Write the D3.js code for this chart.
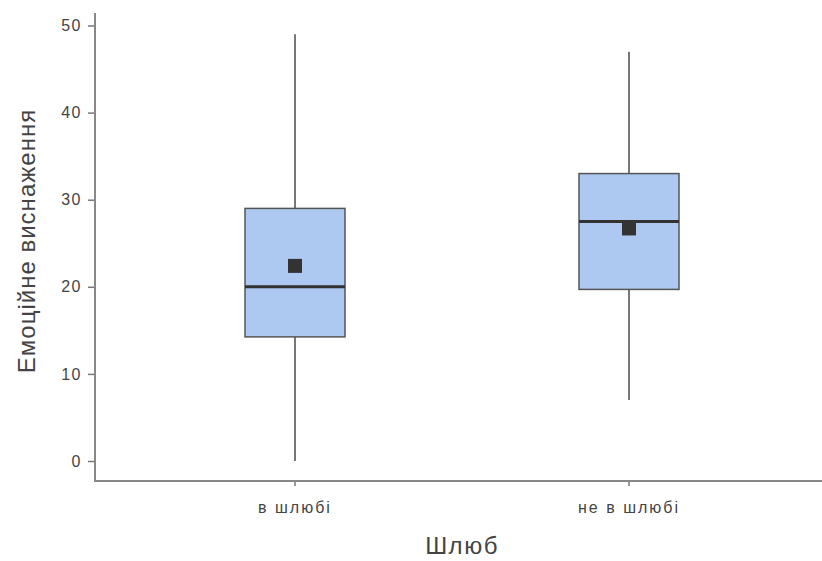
<!DOCTYPE html>
<html><head><meta charset="utf-8">
<script src="https://cdn.jsdelivr.net/npm/d3@7"></script>
<style>body{margin:0;background:#fff}svg{display:block}</style>
</head><body>
<svg id="c" width="822" height="561"></svg>
<script>
const categories = ["в шлюбі", "не в шлюбі"];
const whiskerLow = [0, 7];
const q1 = [14.25, 19.7];
const median = [20, 27.5];
const q3 = [29, 33];
const whiskerHigh = [49, 47];
const means = [22.4, 26.7];
const yTicks = [0, 10, 20, 30, 40, 50];

const svg = d3.select("#c");
const font = "'Liberation Sans', Arial, sans-serif";
const y = d3.scaleLinear().domain([0, 50]).range([461, 25.5]);
const x = d3.scaleBand().domain(categories).range([128, 796]);
const boxW = 100;

// axes
const yAxis = svg.append("g").attr("transform", "translate(95,0)")
  .call(d3.axisLeft(y).tickValues(yTicks).tickSize(7).tickPadding(6));
yAxis.select(".domain").remove();
yAxis.selectAll(".tick line").attr("stroke", "#777").attr("stroke-width", 1.5);
yAxis.selectAll(".tick text").attr("fill", "#444").style("font-family", font).style("font-size", "16px").style("letter-spacing", "1.5px");
svg.append("line").attr("x1", 95).attr("x2", 95).attr("y1", 13).attr("y2", 482)
  .attr("stroke", "#888").attr("stroke-width", 2);

const xAxis = svg.append("g").attr("transform", "translate(0,481)")
  .call(d3.axisBottom(x).tickSize(5).tickPadding(16));
xAxis.select(".domain").remove();
xAxis.selectAll(".tick line").attr("stroke", "#777").attr("stroke-width", 1.5);
xAxis.selectAll(".tick text").attr("fill", "#444").style("font-family", font).style("font-size", "16px").style("letter-spacing", "2px");
svg.append("line").attr("x1", 94).attr("x2", 822).attr("y1", 481).attr("y2", 481)
  .attr("stroke", "#888").attr("stroke-width", 2);

// titles
svg.append("text").attr("x", 462).attr("y", 554).attr("text-anchor", "middle")
  .attr("fill", "#444").style("font-family", font).style("font-size", "24px").style("letter-spacing", "1.5px").text("Шлюб");
svg.append("text").attr("transform", "translate(35,241) rotate(-90)").attr("text-anchor", "middle")
  .attr("fill", "#444").style("font-family", font).style("font-size", "24px").style("letter-spacing", "1px").text("Емоційне виснаження");

// boxes
categories.forEach((c, i) => {
  const cx = x(c) + x.bandwidth() / 2;
  const g = svg.append("g");
  g.append("line").attr("x1", cx).attr("x2", cx).attr("y1", y(whiskerHigh[i])).attr("y2", y(q3[i]))
    .attr("stroke", "#777").attr("stroke-width", 2);
  g.append("line").attr("x1", cx).attr("x2", cx).attr("y1", y(q1[i])).attr("y2", y(whiskerLow[i]))
    .attr("stroke", "#777").attr("stroke-width", 2);
  g.append("rect").attr("x", cx - boxW / 2).attr("width", boxW)
    .attr("y", y(q3[i])).attr("height", y(q1[i]) - y(q3[i]))
    .attr("fill", "#adc8f1").attr("stroke", "#555").attr("stroke-width", 1.5);
  g.append("line").attr("x1", cx - boxW / 2).attr("x2", cx + boxW / 2)
    .attr("y1", y(median[i])).attr("y2", y(median[i]))
    .attr("stroke", "#333").attr("stroke-width", 3);
  g.append("rect").attr("x", cx - 7).attr("y", y(means[i]) - 7).attr("width", 14).attr("height", 14)
    .attr("fill", "#333");
});
</script>
</body></html>
